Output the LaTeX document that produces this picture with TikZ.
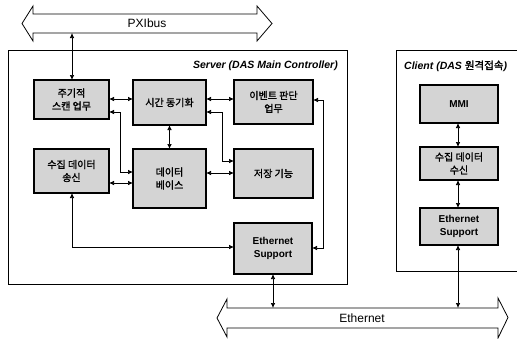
\documentclass[tikz,border=0pt]{standalone}
\usepackage{fontspec}
\setmainfont{Liberation Sans}
\newfontfamily\kr[AutoFakeBold=1.6]{Noto Sans CJK KR}
\usetikzlibrary{arrows.meta}
\tikzset{
  blk/.style={draw=black, line width=1.1pt, fill=black!17, inner sep=0pt, outer sep=0pt,
    align=center, font=\fontsize{10}{13}\selectfont\bfseries},
  ba/.style={line width=0.7pt, {Latex[length=5pt,width=4.5pt]}-{Latex[length=5pt,width=4.5pt]}},
  frame/.style={draw=black, line width=0.8pt},
  bus/.style={draw=black, line width=0.8pt, fill=white, line join=miter},
  ttl/.style={font=\fontsize{10.5}{12}\selectfont\bfseries\itshape, inner sep=0pt},
  buslbl/.style={font=\fontsize{12}{14}\selectfont, inner sep=0pt}
}
\begin{document}
\begin{tikzpicture}[x=1pt,y=-1pt]
\useasboundingbox (0,0) rectangle (517,338);
\clip (0,0) rectangle (517,338);
\fill[white] (0,0) rectangle (517,338);
% PXI bus
\draw[bus] (22,23.5) -- (33,6) -- (33,14) -- (257,14) -- (257,6) -- (272,23.5)
  -- (257,41) -- (257,33) -- (33,33) -- (33,41) -- cycle;
\node[buslbl] (pxilbl) at (147,23.5) {PXIbus};
% Ethernet bus
\draw[bus] (217,318) -- (227,299) -- (227,308) -- (498,308) -- (498,298) -- (508,317.5)
  -- (498,338) -- (498,328) -- (227,328) -- (227,337) -- cycle;
\node[buslbl] (ethlbl) at (362,318) {Ethernet};
% frames
\draw[frame] (8,50) rectangle (347,284);
\draw[frame] (396,50) -- (530,50);
\draw[frame] (396,50) -- (396,271) -- (530,271);
\node[ttl, anchor=east] (srvttl) at (338,66) {Server (DAS Main Controller)};
\node[ttl, anchor=west] (clittl) at (404,66) {Client (DAS {\kr\upshape 원격접속})};
% server blocks
\node[blk, minimum width=75pt, minimum height=39pt] (scan) at (71.5,99.5) {\kr 주기적\\\kr 스캔 업무};
\node[blk, minimum width=73pt, minimum height=45pt] (sync) at (169.5,102.5) {\kr 시간 동기화};
\node[blk, minimum width=79pt, minimum height=44pt] (event) at (273.5,102) {\kr 이벤트 판단\\\kr 업무};
\node[blk, minimum width=75pt, minimum height=44pt] (send) at (71.5,171) {\kr 수집 데이터\\\kr 송신};
\node[blk, minimum width=73pt, minimum height=59pt] (db) at (169.5,178.5) {\kr 데이터\\\kr 베이스};
\node[blk, minimum width=79pt, minimum height=49pt] (store) at (273.5,173.5) {\kr 저장 기능};
\node[blk, minimum width=78pt, minimum height=51pt] (es1) at (273,248.5) {Ethernet\\Support};
% client blocks
\node[blk, minimum width=78pt, minimum height=38pt] (mmi) at (459,104) {MMI};
\node[blk, minimum width=78pt, minimum height=33pt] (recv) at (459,163.5) {\kr 수집 데이터\\\kr 수신};
\node[blk, minimum width=78pt, minimum height=37pt] (es2) at (459,226.5) {Ethernet\\Support};
% bus attach points
\coordinate (pxb) at (72,33);
\coordinate (eb1) at (273,308);
\coordinate (eb2) at (458,308);
% connectors
\draw[ba] (pxb) -- (pxb |- scan.north);
\draw[ba] (scan.east |- {(0,99)}) -- (sync.west |- {(0,99)});
\draw[ba] (scan.east |- {(0,112)}) -| (120,172) -- (db.west |- {(0,172)});
\draw[ba] (send.east |- {(0,183)}) -- (db.west |- {(0,183)});
\draw[ba] (sync.south) -- (db.north);
\draw[ba] (sync.east |- {(0,99)}) -- (event.west |- {(0,99)});
\draw[ba] (sync.east |- {(0,112)}) -| (222,161) -- (store.west |- {(0,161)});
\draw[ba] (db.east |- {(0,173)}) -- (store.west |- {(0,173)});
\draw[ba] (event.east |- {(0,100)}) -| (323,248) -- (es1.east |- {(0,248)});
\draw[ba] (send.south -| {(72,0)}) |- (es1.west |- {(0,247)});
\draw[ba] (es1.south -| eb1) -- (eb1);
\draw[ba] (mmi.south -| {(458,0)}) -- (recv.north -| {(458,0)});
\draw[ba] (recv.south -| {(458,0)}) -- (es2.north -| {(458,0)});
\draw[ba] (es2.south -| eb2) -- (eb2);
\end{tikzpicture}
\end{document}
